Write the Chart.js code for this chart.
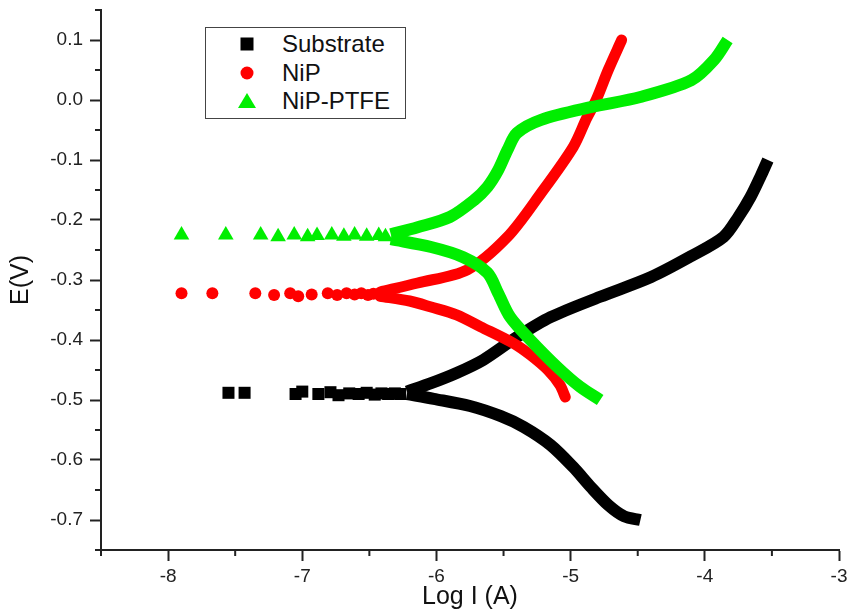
<!DOCTYPE html>
<html>
<head>
<meta charset="utf-8">
<script src="https://cdn.jsdelivr.net/npm/chart.js@4.4.1/dist/chart.umd.min.js"></script>
<style>
  body { margin: 0; background: #fff; }
  #wrap { position: relative; width: 852px; height: 615px; }
  #legend {
    position: absolute; left: 205px; top: 27px; width: 199px; height: 90px;
    border: 1px solid #444; background: #fff;
    font-family: "Liberation Sans", Arial, sans-serif; font-size: 24px; color: #111;
  }
  .row { position: absolute; left: 0; height: 28px; line-height: 28px; }
  .row span { position: absolute; left: 76px; white-space: nowrap; }
  .row svg { position: absolute; left: 32px; top: 5px; }
</style>
</head>
<body>
<div id="wrap">
  <canvas id="myChart" width="852" height="615"></canvas>
  <div id="legend"></div>
</div>
<script>
(() => {
    'use strict'

    const names = ['Substrate', 'NiP', 'NiP-PTFE']
    const colors = ['#000000', '#ff0000', '#00ee00']
    const markers = ['rect', 'circle', 'triangle']

    // Substrate: scattered points near Ecorr, then the two Tafel branches
    const subDotX = [-7.55, -7.43, -7.05, -7.00, -6.88, -6.79, -6.73, -6.65, -6.58, -6.52, -6.46, -6.41, -6.36, -6.31, -6.27]
    const subDotY = [-0.488, -0.488, -0.490, -0.486, -0.490, -0.487, -0.492, -0.489, -0.490, -0.488, -0.491, -0.489, -0.490, -0.489, -0.490]
    const subCathX = [-6.22, -6.02, -5.75, -5.52, -5.35, -5.15, -4.98, -4.85, -4.72, -4.60, -4.48]
    const subCathY = [-0.490, -0.498, -0.510, -0.527, -0.545, -0.575, -0.612, -0.645, -0.675, -0.694, -0.700]
    const subAnoX = [-6.22, -6.04, -5.85, -5.65, -5.40, -5.15, -4.78, -4.40, -4.10, -3.86, -3.75, -3.66, -3.58, -3.53]
    const subAnoY = [-0.486, -0.472, -0.455, -0.433, -0.395, -0.362, -0.328, -0.295, -0.260, -0.228, -0.195, -0.162, -0.125, -0.100]

    // NiP
    const nipDotX = [-7.90, -7.67, -7.35, -7.21, -7.09, -7.03, -6.93, -6.81, -6.74, -6.67, -6.61, -6.56, -6.51, -6.47]
    const nipDotY = [-0.322, -0.322, -0.322, -0.325, -0.322, -0.327, -0.324, -0.322, -0.325, -0.322, -0.324, -0.322, -0.325, -0.323]
    const nipCathX = [-6.42, -6.20, -6.04, -5.85, -5.67, -5.43, -5.30, -5.17, -5.08, -5.04]
    const nipCathY = [-0.327, -0.335, -0.345, -0.358, -0.378, -0.405, -0.425, -0.450, -0.475, -0.495]
    const nipAnoX = [-6.42, -6.14, -5.77, -5.47, -5.22, -4.98, -4.88, -4.81, -4.72, -4.62]
    const nipAnoY = [-0.320, -0.305, -0.283, -0.228, -0.155, -0.078, -0.030, 0.000, 0.050, 0.100]

    // NiP-PTFE
    const ptfeDotX = [-7.90, -7.57, -7.31, -7.18, -7.06, -6.96, -6.89, -6.78, -6.69, -6.61, -6.52, -6.43, -6.38]
    const ptfeDotY = [-0.225, -0.225, -0.225, -0.228, -0.225, -0.228, -0.226, -0.225, -0.227, -0.225, -0.227, -0.226, -0.228]
    const ptfeCathX = [-6.34, -6.04, -5.80, -5.62, -5.54, -5.45, -5.30, -5.10, -4.93, -4.78]
    const ptfeCathY = [-0.232, -0.245, -0.262, -0.288, -0.322, -0.362, -0.400, -0.445, -0.478, -0.500]
    const ptfeAnoX = [-6.34, -6.14, -5.90, -5.72, -5.62, -5.54, -5.47, -5.40, -5.22, -4.85, -4.48, -4.10, -3.93, -3.83]
    const ptfeAnoY = [-0.224, -0.212, -0.195, -0.167, -0.145, -0.117, -0.083, -0.055, -0.033, -0.012, 0.005, 0.033, 0.067, 0.100]

    const pts = (xs, ys) => xs.map((x, i) => ({ x: x, y: ys[i] }))

    const branch = (xs, ys, color, width, cap) => ({
        data: pts(xs, ys),
        showLine: true,
        borderColor: color,
        borderWidth: width,
        borderCapStyle: cap,
        tension: 0.3,
        pointRadius: 0
    })

    const dots = (xs, ys, i, radius) => ({
        label: names[i],
        data: pts(xs, ys),
        showLine: false,
        pointStyle: markers[i],
        pointRadius: radius,
        pointBackgroundColor: colors[i],
        pointBorderWidth: 0
    })

    // first dataset is drawn on top
    const datasets = [
        branch(ptfeCathX, ptfeCathY, colors[2], 12, 'butt'),
        branch(ptfeAnoX, ptfeAnoY, colors[2], 12, 'butt'),
        dots(ptfeDotX, ptfeDotY, 2, 9),
        branch(nipCathX, nipCathY, colors[1], 11, 'round'),
        branch(nipAnoX, nipAnoY, colors[1], 11, 'round'),
        dots(nipDotX, nipDotY, 1, 6),
        branch(subCathX, subCathY, colors[0], 12, 'butt'),
        branch(subAnoX, subAnoY, colors[0], 12, 'butt'),
        dots(subDotX, subDotY, 0, 8.5)
    ]

    const isMajorX = (v) => Math.abs(v - Math.round(v)) < 1e-6
    const isMajorY = (v) => Math.abs(Math.round(v * 20)) % 2 === 0

    // short minor ticks between the labelled ones
    const minorTicks = {
        id: 'minorTicks',
        afterDraw(chart) {
            const { ctx, scales: { x, y } } = chart
            ctx.save()
            ctx.strokeStyle = '#222'
            ctx.lineWidth = 2
            ctx.beginPath()
            x.ticks.forEach((t) => {
                if (isMajorX(t.value)) return
                const px = x.getPixelForValue(t.value)
                ctx.moveTo(px, x.top)
                ctx.lineTo(px, x.top + 6)
            })
            y.ticks.forEach((t) => {
                if (isMajorY(t.value)) return
                const py = y.getPixelForValue(t.value)
                ctx.moveTo(y.right, py)
                ctx.lineTo(y.right - 6, py)
            })
            ctx.stroke()
            ctx.restore()
        }
    }

    const tickFont = { family: '"Liberation Sans", Arial, sans-serif', size: 19 }
    const titleFont = { family: '"Liberation Sans", Arial, sans-serif', size: 25 }

    const ctx = document.getElementById('myChart')
    // eslint-disable-next-line no-unused-vars
    const myChart = new Chart(ctx, {
        type: 'scatter',
        data: { datasets: datasets },
        plugins: [minorTicks],
        options: {
            responsive: false,
            animation: false,
            devicePixelRatio: 1,
            layout: { padding: { top: 10, right: 13, left: 0, bottom: 0 } },
            plugins: {
                legend: { display: false },
                tooltip: { enabled: false }
            },
            scales: {
                x: {
                    type: 'linear',
                    min: -8.5,
                    max: -3,
                    afterFit: (s) => {
                        s.height = 65
                        s.paddingLeft = 0
                        s.paddingRight = 0
                    },
                    ticks: {
                        stepSize: 0.5,
                        autoSkip: false,
                        maxRotation: 0,
                        padding: 4,
                        color: '#222',
                        font: tickFont,
                        callback: (v) => (isMajorX(v) ? String(Math.round(v)) : '')
                    },
                    grid: {
                        drawOnChartArea: false,
                        tickLength: 11,
                        tickWidth: 2,
                        tickColor: (c) => (c.tick && isMajorX(c.tick.value) ? '#222' : 'rgba(0,0,0,0)')
                    },
                    border: { display: true, color: '#222', width: 2 },
                    title: {
                        display: true,
                        text: 'Log I (A)',
                        color: '#111',
                        font: titleFont,
                        padding: { top: 0, bottom: 3 }
                    }
                },
                y: {
                    type: 'linear',
                    min: -0.75,
                    max: 0.15,
                    afterFit: (s) => {
                        s.width = 101
                        s.paddingTop = 0
                        s.paddingBottom = 0
                    },
                    ticks: {
                        stepSize: 0.05,
                        autoSkip: false,
                        padding: 7,
                        color: '#222',
                        font: tickFont,
                        callback: (v) => (isMajorY(v) ? v.toFixed(1) : '')
                    },
                    grid: {
                        drawOnChartArea: false,
                        tickLength: 11,
                        tickWidth: 2,
                        tickColor: (c) => (c.tick && isMajorY(c.tick.value) ? '#222' : 'rgba(0,0,0,0)')
                    },
                    border: { display: true, color: '#222', width: 2 },
                    title: {
                        display: true,
                        text: 'E(V)',
                        color: '#111',
                        font: titleFont,
                        padding: { top: 6, bottom: 0 }
                    }
                }
            }
        }
    })

    // legend box drawn as HTML over the chart
    const svgs = [
        '<svg width="18" height="18"><rect x="2.5" y="2.5" width="13" height="13" fill="#000000"/></svg>',
        '<svg width="18" height="18"><circle cx="9" cy="9" r="6.5" fill="#ff0000"/></svg>',
        '<svg width="18" height="18"><polygon points="9,1 18,16 0,16" fill="#00ee00"/></svg>'
    ]
    const rowTops = [2, 31, 59]
    document.getElementById('legend').innerHTML = names.map((n, i) =>
        '<div class="row" style="top:' + rowTops[i] + 'px">' + svgs[i] + '<span>' + n + '</span></div>'
    ).join('')
})()
</script>
</body>
</html>
